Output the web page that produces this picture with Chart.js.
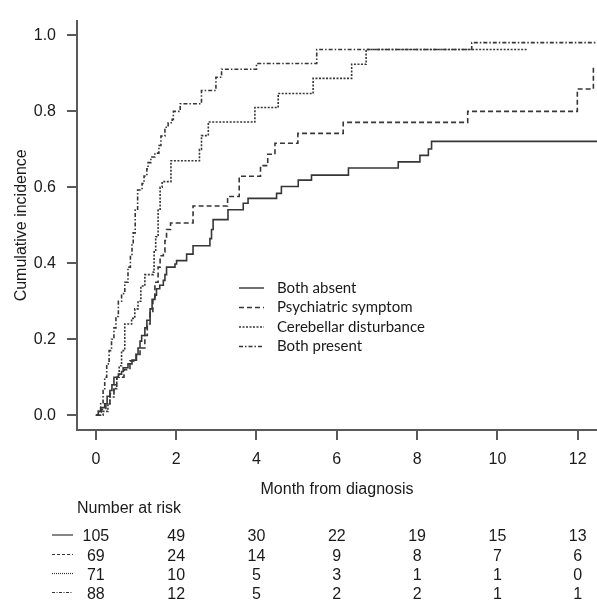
<!DOCTYPE html>
<html>
<head>
<meta charset="utf-8">
<script src="https://cdn.jsdelivr.net/npm/chart.js@4.4.1/dist/chart.umd.min.js"></script>
<style>
  html, body { margin: 0; padding: 0; background: #fff; }
  #wrap { width: 597px; height: 606px; }
</style>
</head>
<body>
<div id="wrap"><canvas id="chart" width="597" height="606"></canvas></div>
<script>
// group names (legend + risk table rows)
const groups = ['Both absent', 'Psychiatric symptom', 'Cerebellar disturbance', 'Both present'];

// step curves: time (months) where the cumulative incidence jumps, and the new value
const absentT  = [0, 0.06, 0.12, 0.22, 0.28, 0.35, 0.40, 0.45, 0.56, 0.64, 0.68, 0.80, 0.90, 1.01, 1.05, 1.10, 1.14, 1.22, 1.27, 1.35, 1.40, 1.47, 1.51, 1.59, 1.68, 1.72, 1.76, 1.97, 2.01, 2.26, 2.42, 2.84, 2.88, 2.92, 3.29, 3.67, 3.79, 4.50, 4.62, 5.04, 5.37, 6.29, 7.53, 8.07, 8.28, 8.36, 12.5];
const absentCI = [0, 0.01, 0.02, 0.03, 0.05, 0.065, 0.08, 0.10, 0.108, 0.115, 0.125, 0.135, 0.145, 0.16, 0.177, 0.195, 0.21, 0.23, 0.25, 0.28, 0.305, 0.316, 0.333, 0.342, 0.355, 0.37, 0.39, 0.398, 0.407, 0.424, 0.446, 0.465, 0.489, 0.515, 0.541, 0.558, 0.571, 0.584, 0.602, 0.619, 0.632, 0.651, 0.667, 0.684, 0.701, 0.721, 0.721];

const psychT  = [0, 0.14, 0.25, 0.35, 0.45, 0.52, 0.70, 0.85, 1.00, 1.10, 1.22, 1.28, 1.35, 1.42, 1.47, 1.55, 1.60, 1.68, 1.72, 1.76, 1.86, 2.42, 3.28, 3.57, 4.10, 4.28, 4.46, 5.03, 6.16, 9.26, 11.99, 12.39, 12.5];
const psychCI = [0, 0.015, 0.03, 0.057, 0.08, 0.10, 0.12, 0.143, 0.16, 0.177, 0.21, 0.24, 0.27, 0.31, 0.35, 0.39, 0.42, 0.43, 0.46, 0.489, 0.506, 0.551, 0.576, 0.629, 0.657, 0.687, 0.716, 0.742, 0.771, 0.80, 0.859, 0.913, 0.913];

const cerebT  = [0, 0.18, 0.30, 0.35, 0.45, 0.52, 0.58, 0.64, 0.72, 0.89, 0.97, 1.05, 1.12, 1.22, 1.43, 1.45, 1.49, 1.55, 1.60, 1.65, 1.87, 2.58, 2.63, 2.80, 3.96, 4.54, 5.41, 6.37, 6.73, 10.73];
const cerebCI = [0, 0.01, 0.03, 0.048, 0.07, 0.10, 0.13, 0.17, 0.24, 0.255, 0.28, 0.30, 0.34, 0.37, 0.377, 0.43, 0.47, 0.54, 0.60, 0.615, 0.670, 0.70, 0.736, 0.772, 0.81, 0.847, 0.887, 0.924, 0.963, 0.963];

const bothT  = [0, 0.06, 0.12, 0.18, 0.22, 0.27, 0.33, 0.39, 0.45, 0.50, 0.56, 0.64, 0.72, 0.80, 0.86, 0.90, 0.93, 0.98, 1.04, 1.15, 1.20, 1.27, 1.30, 1.37, 1.47, 1.57, 1.62, 1.72, 1.80, 1.90, 1.93, 2.10, 2.63, 2.99, 3.13, 4.00, 5.50, 9.36, 12.5];
const bothCI = [0, 0.01, 0.03, 0.065, 0.10, 0.135, 0.17, 0.20, 0.23, 0.26, 0.30, 0.32, 0.35, 0.39, 0.42, 0.45, 0.48, 0.54, 0.593, 0.61, 0.63, 0.649, 0.665, 0.68, 0.69, 0.71, 0.735, 0.758, 0.77, 0.779, 0.80, 0.82, 0.855, 0.89, 0.911, 0.926, 0.963, 0.981, 0.981];

// axis ticks
const xTicks = [0, 2, 4, 6, 8, 10, 12];
const yTicks = [0, 0.2, 0.4, 0.6, 0.8, 1.0];

// number at risk at each x tick
const riskAbsent = [105, 49, 30, 22, 19, 15, 13];
const riskPsych  = [69, 24, 14, 9, 8, 7, 6];
const riskCereb  = [71, 10, 5, 3, 1, 1, 0];
const riskBoth   = [88, 12, 5, 2, 2, 1, 1];
const riskRows = [riskAbsent, riskPsych, riskCereb, riskBoth];

const lineCol = '#363636';
const axisCol = '#5a5a5a';
const dashes = [[], [5, 3], [2, 1.5], [4, 2, 1.5, 2]];
const smallDashes = [[], [3, 2], [1, 1], [3, 1.5, 1, 1.5]];

function toPts(ts, vs) {
    return ts.map(function (t, i) { return {x: t, y: vs[i]}; });
}

// legend + number-at-risk table
const extras = {
    id: 'extras',
    afterDraw(chart) {
        const ctx = chart.ctx;
        const xs = chart.scales.x;
        ctx.save();
        // legend inside plot
        ctx.font = '15px Lato, "Open Sans", sans-serif';
        ctx.textBaseline = 'middle';
        ctx.textAlign = 'left';
        const legY = [288, 307.5, 327, 346.5];
        groups.forEach(function (g, i) {
            ctx.strokeStyle = lineCol;
            ctx.lineWidth = 1.4;
            ctx.setLineDash(dashes[i]);
            ctx.beginPath();
            ctx.moveTo(239, legY[i]);
            ctx.lineTo(264, legY[i]);
            ctx.stroke();
            ctx.setLineDash([]);
            ctx.fillStyle = '#1a1a1a';
            ctx.fillText(g, 277, legY[i]);
        });

        // number at risk
        ctx.font = '16px "Liberation Sans", Arial, sans-serif';
        ctx.fillStyle = '#1a1a1a';
        ctx.fillText('Number at risk', chart.chartArea.left, 509);
        const rowY = [537, 556.5, 575.5, 594.5];
        ctx.textAlign = 'center';
        riskRows.forEach(function (row, r) {
            ctx.strokeStyle = '#333';
            ctx.lineWidth = 1.2;
            ctx.setLineDash(smallDashes[r]);
            ctx.beginPath();
            ctx.moveTo(52, rowY[r] - 2);
            ctx.lineTo(73, rowY[r] - 2);
            ctx.stroke();
            ctx.setLineDash([]);
            row.forEach(function (n, i) {
                ctx.fillText(String(n), xs.getPixelForValue(xTicks[i]), rowY[r]);
            });
        });
        ctx.restore();
    }
};

Chart.defaults.font.family = '"Liberation Sans", Arial, sans-serif';
Chart.defaults.color = '#1a1a1a';

const allT = [absentT, psychT, cerebT, bothT];
const allCI = [absentCI, psychCI, cerebCI, bothCI];

new Chart(document.getElementById('chart'), {
    type: 'line',
    data: {
        datasets: groups.map(function (g, i) {
            return {
                label: g,
                data: toPts(allT[i], allCI[i]),
                stepped: true,
                borderColor: lineCol,
                borderWidth: 1.6,
                borderDash: dashes[i],
                pointRadius: 0,
                fill: false
            };
        })
    },
    options: {
        responsive: false,
        animation: false,
        devicePixelRatio: 1,
        layout: {padding: {top: 15, left: 0, right: 0, bottom: 0}},
        plugins: {legend: {display: false}, tooltip: {enabled: false}},
        scales: {
            x: {
                type: 'linear',
                min: -0.47,
                max: 12.48,
                afterBuildTicks: function (s) { s.ticks = xTicks.map(function (v) { return {value: v}; }); },
                afterFit: function (s) { s.height = 176; },
                border: {display: true, color: axisCol, width: 2},
                grid: {drawOnChartArea: false, drawTicks: true, tickLength: 10, color: axisCol, lineWidth: 2},
                ticks: {font: {size: 16}, padding: 10, maxRotation: 0, color: '#1a1a1a'},
                title: {display: true, text: 'Month from diagnosis', font: {size: 16}, padding: {top: 0, bottom: 107}, color: '#1a1a1a'}
            },
            y: {
                type: 'linear',
                min: -0.039,
                max: 1.039,
                afterBuildTicks: function (s) { s.ticks = yTicks.map(function (v) { return {value: v}; }); },
                afterFit: function (s) { s.width = 77; },
                border: {display: true, color: axisCol, width: 2},
                grid: {drawOnChartArea: false, drawTicks: true, tickLength: 10, color: axisCol, lineWidth: 2},
                ticks: {font: {size: 16}, padding: 11, color: '#1a1a1a',
                    callback: function (v) { return v.toFixed(1); }},
                title: {display: true, text: 'Cumulative incidence', font: {size: 16}, padding: {top: 12, bottom: 0}, color: '#1a1a1a'}
            }
        }
    },
    plugins: [extras]
});
</script>
</body>
</html>
